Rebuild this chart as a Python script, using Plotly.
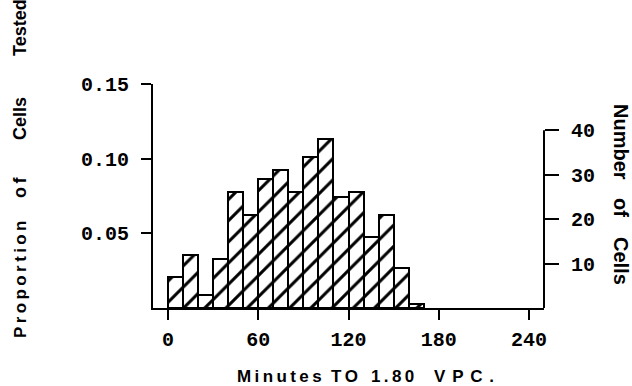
import plotly.graph_objects as go

# Histogram of minutes to reach 1.80 VPC, 10-minute bins
bin_start = [0, 10, 20, 30, 40, 50, 60, 70, 80, 90, 100, 110, 120, 130, 140, 150, 160]
counts = [7, 12, 3, 11, 26, 21, 29, 31, 26, 34, 38, 25, 26, 16, 21, 9, 1]
bin_width = 10

x_ticks = [0, 60, 120, 180, 240]
prop_ticks = [0.05, 0.10, 0.15]
prop_labels = ["0.05", "0.10", "0.15"]
count_ticks = [10, 20, 30, 40]

n_total = sum(counts)
proportion = [c / n_total for c in counts]
prop_max = max(prop_ticks)

# plot area in pixels
W, H = 632, 386
L, R, T, B = 153, 88, 84, 78
PW, PH = W - L - R, H - T - B


def px(x):
    return (x - L) / PW


def py(y):
    return (H - B - y) / PH


THIN = "\u2009"


def spaced(word, sep=THIN):
    return sep.join(word)


mono = "Liberation Mono"
sans = "Liberation Sans, Arial, sans-serif"

fig = go.Figure()
fig.add_trace(go.Bar(
    x=bin_start, y=proportion, width=bin_width, offset=0,
    marker=dict(color="white", line=dict(color="black", width=2),
                pattern=dict(shape="/", size=15, solidity=0.2,
                             fgcolor="black", bgcolor="white", fillmode="replace")),
    hoverinfo="skip", showlegend=False,
))
# counts on the right-hand scale (same bars, no marks drawn)
fig.add_trace(go.Scatter(
    x=[b + bin_width / 2 for b in bin_start], y=counts, yaxis="y2",
    mode="markers", marker=dict(opacity=0), hoverinfo="skip", showlegend=False,
))

tick_font = dict(family=mono, size=20, color="black", weight="bold")

fig.update_layout(
    width=W, height=H,
    margin=dict(l=L, r=R, t=T, b=B, pad=0),
    paper_bgcolor="white", plot_bgcolor="white",
    bargap=0,
    xaxis=dict(range=[-10, 250], tickvals=x_ticks, ticks="outside", ticklen=10,
               tickwidth=2, tickcolor="black", showline=True, linewidth=2,
               linecolor="black", showgrid=False, zeroline=False,
               tickfont=tick_font, ticklabelstandoff=2),
    yaxis=dict(range=[0, prop_max], tickvals=prop_ticks, ticktext=prop_labels,
               ticks="outside", ticklen=10, tickwidth=2, tickcolor="black",
               showline=True, linewidth=2, linecolor="black", showgrid=False,
               zeroline=False, tickfont=tick_font, ticklabelstandoff=8),
    yaxis2=dict(range=[0, prop_max * n_total], tickvals=count_ticks,
                overlaying="y", side="right", ticks="outside", ticklen=14,
                tickwidth=2, tickcolor="black", showline=False, showgrid=False,
                zeroline=False, tickfont=tick_font, ticklabelstandoff=8),
)

# right-hand axis line, from zero up to the top count tick
fig.add_shape(type="line", xref="paper", yref="y2", x0=1, x1=1, y0=0,
              y1=max(count_ticks), line=dict(color="black", width=2))

title_font = dict(family=sans, size=17, color="black", weight="bold")

annotations = []
# left title, one word at a time (reads bottom to top)
for word, yc, sep, size in [("Proportion", 279, THIN, 17), ("of", 187, THIN, 18),
                            ("Cells", 119, "", 18), ("Tested", 28, "", 18)]:
    annotations.append(dict(text=spaced(word, sep), x=px(20), y=py(yc),
                            xref="paper", yref="paper", showarrow=False,
                            textangle=-90, xanchor="center", yanchor="middle",
                            font=dict(title_font, size=size)))
# right title (reads top to bottom)
for word, yc in [("Number", 142), ("of", 207), ("Cells", 261)]:
    annotations.append(dict(text=word, x=px(621), y=py(yc), xref="paper", yref="paper",
                            showarrow=False, textangle=90, xanchor="center",
                            yanchor="middle", font=dict(title_font, size=20)))
# x-axis title
for word, xc, sep in [("Minutes", 279, THIN), ("TO", 344, THIN), ("1.80", 392, THIN),
                      ("VPC.", 464, THIN + THIN)]:
    annotations.append(dict(text=spaced(word, sep), x=px(xc), y=py(376),
                            xref="paper", yref="paper", showarrow=False,
                            xanchor="center", yanchor="middle", font=title_font))
fig.update_layout(annotations=annotations)

fig.write_html("out.html")
